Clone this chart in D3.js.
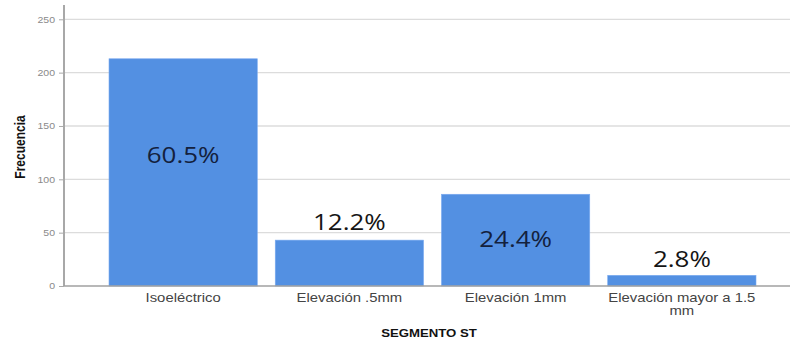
<!DOCTYPE html>
<html>
<head>
<meta charset="utf-8">
<script src="https://cdn.jsdelivr.net/npm/d3@7"></script>
<style>
  html, body { margin: 0; padding: 0; background: #fff; }
  svg { display: block; }
</style>
</head>
<body>
<svg id="chart" width="790" height="343"></svg>
<script>
// Segmento ST: frequency of each category
const categories = ["Isoeléctrico", "Elevación .5mm", "Elevación 1mm", "Elevación mayor a 1.5 mm"];
const frequencies = [213, 43, 86, 10];
const yTicks = [0, 50, 100, 150, 200, 250];
const yTitle = "Frecuencia";
const xTitle = "SEGMENTO ST";

// Baseline of each percentage label, in frequency units, and whether it sits on the bar
const pctLabelAt = [115, 52.5, 37, 18];
const pctOnBar = [true, false, true, false];

const W = 790, H = 343;
const svg = d3.select("#chart");

const x = d3.scaleBand()
  .domain(categories)
  .range([109, 756])
  .paddingInner(0.108)
  .paddingOuter(0);

const y = d3.scaleLinear().domain([0, 250]).range([286, 19.3]);

const axisX = 64;
const total = d3.sum(frequencies);
const pct = d3.format(".1%");

// Horizontal text stretch used for every label
const SX = 1.24;

// Gridlines
svg.append("g")
  .selectAll("line")
  .data(yTicks.filter(t => t > 0))
  .join("line")
  .attr("x1", axisX).attr("x2", W)
  .attr("y1", d => y(d)).attr("y2", d => y(d))
  .attr("stroke", "#dcdcdc")
  .attr("stroke-width", 1.3);

// Bars
svg.append("g")
  .selectAll("rect")
  .data(frequencies)
  .join("rect")
  .attr("x", (d, i) => x(categories[i]))
  .attr("width", x.bandwidth())
  .attr("y", d => y(d))
  .attr("height", d => y(0) - y(d))
  .attr("fill", "#5390e2")
  .attr("stroke", "#7aaaf0")
  .attr("stroke-width", 0.6);

// Y axis built with d3.axisLeft, then styled
const yAxis = svg.append("g")
  .attr("transform", `translate(${axisX},0)`)
  .call(d3.axisLeft(y).tickValues(yTicks).tickSize(5).tickPadding(4).tickFormat(d3.format("d")));
yAxis.select(".domain").remove();
yAxis.selectAll(".tick line").attr("stroke", "#aaa");
yAxis.selectAll(".tick text")
  .attr("fill", "#8a8a8a")
  .attr("font-family", "'Liberation Sans', Arial, sans-serif")
  .attr("font-size", 8.5)
  .attr("dy", "0.32em")
  .attr("transform", `scale(${SX},1)`)
  .attr("x", function () { return +d3.select(this).attr("x") / SX; });

// Axis lines
svg.append("line")
  .attr("x1", axisX).attr("x2", axisX)
  .attr("y1", 5).attr("y2", y(0))
  .attr("stroke", "#a8a8a8").attr("stroke-width", 2);
svg.append("line")
  .attr("x1", axisX).attr("x2", W)
  .attr("y1", y(0)).attr("y2", y(0))
  .attr("stroke", "#a0a0a0").attr("stroke-width", 1.5);

// Category labels, wrapped to the band step
const catG = svg.append("g");
categories.forEach((c, i) => {
  const cx = x(c) + x.bandwidth() / 2;
  const g = catG.append("g").attr("transform", `translate(${cx},302) scale(${SX},1)`);
  const t = g.append("text")
    .attr("text-anchor", "middle")
    .attr("font-family", "'Liberation Sans', Arial, sans-serif")
    .attr("font-size", 12)
    .attr("fill", "#444");
  const words = c.split(" ");
  const maxW = x.step() / SX;
  let line = [];
  let tspan = t.append("tspan").attr("x", 0).attr("dy", 0);
  words.forEach(w => {
    line.push(w);
    tspan.text(line.join(" "));
    if (tspan.node().getComputedTextLength() > maxW && line.length > 1) {
      line.pop();
      tspan.text(line.join(" "));
      line = [w];
      tspan = t.append("tspan").attr("x", 0).attr("dy", "1.1em").text(w);
    }
  });
});

// Percentage labels
frequencies.forEach((f, i) => {
  const cx = x(categories[i]) + x.bandwidth() / 2;
  svg.append("g")
    .attr("transform", `translate(${cx},${y(pctLabelAt[i])}) scale(1.18,1)`)
    .append("text")
    .attr("text-anchor", "middle")
    .attr("font-family", "'Open Sans', sans-serif")
    .attr("font-size", 22)
    .attr("fill", pctOnBar[i] ? "#13213d" : "#151515")
    .text(pct(f / total));
});

// Axis titles
svg.append("g")
  .attr("transform", `translate(25,147) rotate(-90) scale(1,${SX})`)
  .append("text")
  .attr("text-anchor", "middle")
  .attr("font-family", "'Liberation Sans', Arial, sans-serif")
  .attr("font-weight", "bold")
  .attr("font-size", 12)
  .attr("fill", "#111")
  .text(yTitle);

svg.append("g")
  .attr("transform", `translate(429,337) scale(1.2,1)`)
  .append("text")
  .attr("text-anchor", "middle")
  .attr("font-family", "'Liberation Sans', Arial, sans-serif")
  .attr("font-weight", "bold")
  .attr("font-size", 11)
  .attr("fill", "#111")
  .text(xTitle);
</script>
</body>
</html>
